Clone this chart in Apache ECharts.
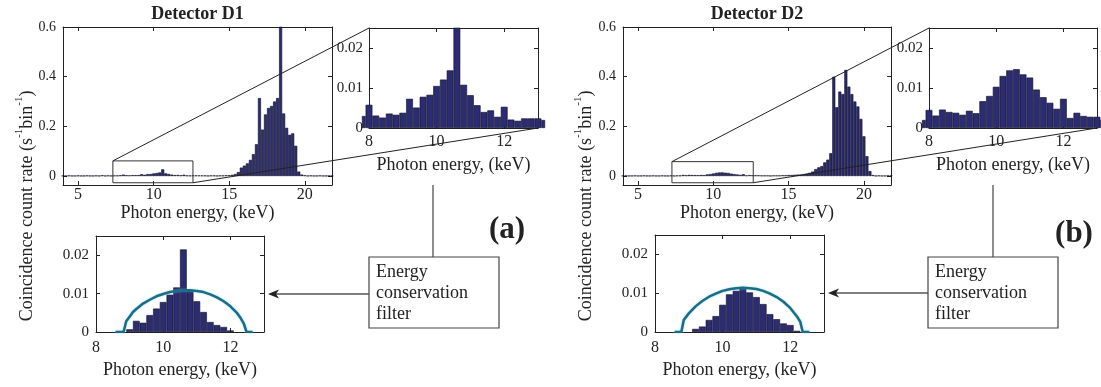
<!DOCTYPE html>
<html>
<head>
<meta charset="utf-8">
<script src="https://cdn.jsdelivr.net/npm/echarts@6/dist/echarts.min.js"></script>
<style>
  html, body { margin: 0; padding: 0; background: #fff; }
  #chart { width: 1101px; height: 387px; }
</style>
</head>
<body>
<div id="chart"></div>
<script>
// ---------------------------------------------------------------
// Data: coincidence count rate per 0.2 keV bin (s^-1 bin^-1)
// ---------------------------------------------------------------
const spectrumEnergy = [
  4.0, 4.2, 4.4, 4.6, 4.8, 5.0, 5.2, 5.4, 5.6, 5.8, 6.0, 6.2, 6.4, 6.6, 6.8, 7.0, 7.2, 7.4, 7.6, 7.8,
  8.0, 8.2, 8.4, 8.6, 8.8, 9.0, 9.2, 9.4, 9.6, 9.8, 10.0, 10.2, 10.4, 10.6, 10.8, 11.0, 11.2, 11.4, 11.6, 11.8,
  12.0, 12.2, 12.4, 12.6, 12.8, 13.0, 13.2, 13.4, 13.6, 13.8, 14.0, 14.2, 14.4, 14.6, 14.8, 15.0, 15.2, 15.4, 15.6, 15.8,
  16.0, 16.2, 16.4, 16.6, 16.8, 17.0, 17.2, 17.4, 17.6, 17.8, 18.0, 18.2, 18.4, 18.6, 18.8, 19.0, 19.2, 19.4, 19.6, 19.8,
  20.0, 20.2, 20.4, 20.6, 20.8, 21.0, 21.2, 21.4, 21.6, 21.8
];

const spectrumD1 = [
  0.001, 0.001, 0.002, 0.001, 0.001, 0.002, 0.001, 0.001, 0.002, 0.001, 0.001, 0.002, 0.001, 0.003, 0.001, 0.002, 0.001, 0.002, 0.002, 0.003,
  0.0058, 0.0031, 0.0026, 0.0036, 0.0033, 0.0038, 0.0073, 0.0051, 0.0078, 0.0083, 0.0105, 0.0121, 0.0144, 0.027, 0.0108, 0.0082, 0.0057, 0.0040, 0.0044, 0.0028,
  0.0053, 0.0021, 0.0018, 0.0024, 0.0024, 0.0024, 0.002, 0.002, 0.001, 0.002, 0.002, 0.001, 0.002, 0.002, 0.003, 0.003, 0.005, 0.008, 0.016, 0.034,
  0.042, 0.051, 0.065, 0.088, 0.128, 0.314, 0.187, 0.248, 0.274, 0.282, 0.300, 0.314, 0.75, 0.252, 0.194, 0.166, 0.172, 0.122, 0.018, 0.006,
  0.003, 0.001, 0.002, 0.001, 0.001, 0.002, 0.001, 0.001, 0.001, 0.001
];

const spectrumD2 = [
  0.001, 0.002, 0.001, 0.001, 0.002, 0.001, 0.001, 0.002, 0.001, 0.001, 0.002, 0.001, 0.001, 0.002, 0.001, 0.001, 0.002, 0.001, 0.002, 0.002,
  0.0045, 0.0031, 0.0046, 0.0040, 0.0038, 0.0033, 0.0043, 0.0037, 0.0067, 0.0080, 0.0103, 0.0130, 0.0144, 0.0147, 0.0134, 0.0126, 0.0096, 0.0077, 0.0063, 0.0048,
  0.0073, 0.0025, 0.0038, 0.0030, 0.0028, 0.0028, 0.002, 0.002, 0.002, 0.001, 0.002, 0.002, 0.002, 0.003, 0.003, 0.004, 0.004, 0.005, 0.006, 0.006,
  0.008, 0.010, 0.013, 0.018, 0.028, 0.035, 0.040, 0.055, 0.066, 0.092, 0.400, 0.277, 0.340, 0.330, 0.427, 0.360, 0.330, 0.300, 0.280, 0.230,
  0.160, 0.080, 0.020, 0.004, 0.001, 0.002, 0.001, 0.001, 0.002, 0.002
];

// After the energy conservation filter
const filteredEnergyD1 = [9.0, 9.2, 9.4, 9.6, 9.8, 10.0, 10.2, 10.4, 10.6, 10.8, 11.0, 11.2, 11.4, 11.6, 11.8, 12.0];
const filteredD1 = [0.0007, 0.0029, 0.0024, 0.0044, 0.0061, 0.0078, 0.0097, 0.0116, 0.0215, 0.0108, 0.0080, 0.0052, 0.0026, 0.0018, 0.0013, 0.0004];
const filteredEnergyD2 = [9.2, 9.4, 9.6, 9.8, 10.0, 10.2, 10.4, 10.6, 10.8, 11.0, 11.2, 11.4, 11.6, 11.8, 12.0, 12.2];
const filteredD2 = [0.0008, 0.0014, 0.0031, 0.0041, 0.0070, 0.0097, 0.0106, 0.0113, 0.0102, 0.0090, 0.0072, 0.0046, 0.0033, 0.0022, 0.0018, 0.0003];

// Filter acceptance envelope
const envelopeEnergyD1 = [8.58, 8.82, 8.9, 9.0, 9.1, 9.2, 9.4, 9.6, 9.8, 10.0, 10.2, 10.4, 10.6, 10.8, 11.0, 11.2, 11.4, 11.6, 11.8, 12.0, 12.2, 12.3, 12.4, 12.48, 12.66];
const envelopeD1 = [0, 0, 0.0028, 0.0040, 0.0052, 0.0060, 0.0074, 0.0084, 0.0093, 0.0099, 0.0104, 0.0107, 0.0109, 0.0109, 0.0107, 0.0104, 0.0098, 0.0090, 0.0080, 0.0067, 0.0049, 0.0037, 0.0022, 0, 0];
const envelopeEnergyD2 = [8.58, 8.78, 8.85, 9.0, 9.2, 9.4, 9.6, 9.8, 10.0, 10.2, 10.4, 10.6, 10.8, 11.0, 11.2, 11.4, 11.6, 11.8, 12.0, 12.2, 12.3, 12.37, 12.57];
const envelopeD2 = [0, 0, 0.0031, 0.0048, 0.0066, 0.0080, 0.0091, 0.0099, 0.0106, 0.0110, 0.0113, 0.0114, 0.0113, 0.0111, 0.0106, 0.0099, 0.0090, 0.0078, 0.0062, 0.0040, 0.0026, 0, 0];

// Magnified window drawn on each full spectrum (keV, rate)
const windowEnergyD1 = [7.3, 12.6];
const windowRateD1 = [-0.027, 0.061];
const windowEnergyD2 = [7.25, 12.65];
const windowRateD2 = [-0.027, 0.058];

// Axis ranges and tick labels
const spectrumRangeX = [4, 21.8];
const spectrumRangeY = [-0.036, 0.6];
const zoomRangeX = [8, 13];
const zoomRangeY = [0, 0.025];
const spectrumTicksX = [5, 10, 15, 20];
const spectrumTicksY = [0, 0.2, 0.4, 0.6];
const zoomTicksX = [8, 10, 12];
const zoomTicksY = [0, 0.01, 0.02];

// ---------------------------------------------------------------
// Layout (pixels)
// ---------------------------------------------------------------
const FONT = 'Liberation Serif';
const INK = '#222';
const BAR = '#2c2c72';
const ENVELOPE = '#1b6c88';

const panels = [
  { main: { left: 63, top: 27, width: 269, height: 158 },
    inset: { left: 369, top: 28, width: 169, height: 100 },
    filt: { left: 96, top: 236, width: 168, height: 96 },
    title: 'Detector D1', tag: '(a)',
    spectrum: spectrumD1, fE: filteredEnergyD1, fV: filteredD1,
    eE: envelopeEnergyD1, eV: envelopeD1, wE: windowEnergyD1, wR: windowRateD1,
    yLabelX: 25, stemX: 433, box: { x: 369, y: 257, w: 130, h: 71 }, arrowY: 294, tagPos: [507, 230] },
  { main: { left: 623, top: 27, width: 268, height: 158 },
    inset: { left: 929, top: 28, width: 168, height: 100 },
    filt: { left: 655, top: 235, width: 169, height: 97 },
    title: 'Detector D2', tag: '(b)',
    spectrum: spectrumD2, fE: filteredEnergyD2, fV: filteredD2,
    eE: envelopeEnergyD2, eV: envelopeD2, wE: windowEnergyD2, wR: windowRateD2,
    yLabelX: 584, stemX: 993, box: { x: 928, y: 257, w: 130, h: 71 }, arrowY: 293, tagPos: [1074, 234] }
];

const grids = [], xAxes = [], yAxes = [], series = [];
const tickLabelJobs = [];

function pairs(xs, ys) { return xs.map((x, i) => [x, ys[i]]); }

// One boxed plot: bottom/left axes carry the ticks, top/right close the frame.
function addBox(rect, xr, yr, xt, yt, fonts) {
  const gi = grids.length;
  grids.push(Object.assign({ containLabel: false }, rect));
  const line = { show: true, onZero: false, lineStyle: { color: INK, width: 1 } };
  const tick = (vals) => ({ show: true, inside: true, length: 4, customValues: vals, lineStyle: { color: INK, width: 1 } });
  const xi = xAxes.length, yi = yAxes.length;
  ['bottom', 'top'].forEach((pos) => xAxes.push({ gridIndex: gi, type: 'value', position: pos, min: xr[0], max: xr[1],
    axisLine: line, axisTick: tick(xt), splitLine: { show: false }, axisLabel: { show: false } }));
  ['left', 'right'].forEach((pos) => yAxes.push({ gridIndex: gi, type: 'value', position: pos, min: yr[0], max: yr[1],
    axisLine: line, axisTick: tick(yt), splitLine: { show: false }, axisLabel: { show: false } }));
  tickLabelJobs.push({ rect, xi, yi, xt, yt, fonts });
  return { xi, yi };
}

function barSeries(ax, xs, ys) {
  return { type: 'bar', xAxisIndex: ax.xi, yAxisIndex: ax.yi, data: pairs(xs, ys),
    barCategoryGap: '0%', clip: true, silent: true, animation: false,
    itemStyle: { color: BAR, borderColor: '#0d0d22', borderWidth: 0.6 } };
}

const axesRefs = [];
panels.forEach((p) => {
  const mainAx = addBox(p.main, spectrumRangeX, spectrumRangeY, spectrumTicksX, spectrumTicksY, { x: 16, y: 14, xGap: 10, yGap: 7 });
  const insetAx = addBox(p.inset, zoomRangeX, zoomRangeY, zoomTicksX, zoomTicksY, { x: 16, y: 15, xGap: 14, yGap: 6 });
  const filtAx = addBox(p.filt, zoomRangeX, zoomRangeY, zoomTicksX, zoomTicksY, { x: 16, y: 15, xGap: 16, yGap: 7 });
  axesRefs.push({ mainAx, insetAx, filtAx });

  series.push(barSeries(mainAx, spectrumEnergy, p.spectrum));
  series.push(barSeries(insetAx, spectrumEnergy, p.spectrum));
  series.push(barSeries(filtAx, p.fE, p.fV));
  series.push({ type: 'line', xAxisIndex: filtAx.xi, yAxisIndex: filtAx.yi, data: pairs(p.eE, p.eV),
    symbol: 'none', silent: true, animation: false, z: 5,
    lineStyle: { color: ENVELOPE, width: 2.5, shadowColor: 'rgba(90,200,220,0.7)', shadowBlur: 2 } });
  // magnified window outline on the full spectrum
  const wx = [p.wE[0], p.wE[1], p.wE[1], p.wE[0], p.wE[0]];
  const wy = [p.wR[0], p.wR[0], p.wR[1], p.wR[1], p.wR[0]];
  series.push({ type: 'line', xAxisIndex: mainAx.xi, yAxisIndex: mainAx.yi, data: pairs(wx, wy),
    symbol: 'none', silent: true, animation: false, clip: false, z: 6,
    lineStyle: { color: '#333', width: 1 } });
});

const chart = echarts.init(document.getElementById('chart'), null, { renderer: 'canvas' });
chart.setOption({
  animation: false,
  backgroundColor: '#fff',
  textStyle: { fontFamily: FONT, color: INK },
  grid: grids,
  xAxis: xAxes,
  yAxis: yAxes,
  series: series
});

// ---------------------------------------------------------------
// Annotations: tick labels, titles, axis names, connectors, filter boxes
// ---------------------------------------------------------------
function txt(text, x, y, size, opts) {
  opts = opts || {};
  const align = opts.align || 'center';
  const valign = opts.valign || 'middle';
  return { type: 'text', x: x, y: y, z: 100, silent: true,
    style: { text: text, fill: INK, fontFamily: FONT, fontSize: size,
      fontWeight: opts.bold ? 'bold' : 'normal',
      align: align, textAlign: align, verticalAlign: valign, textVerticalAlign: valign } };
}
function seg(x1, y1, x2, y2, color, width) {
  return { type: 'line', z: 100, silent: true, shape: { x1, y1, x2, y2 },
    style: { stroke: color || '#333', lineWidth: width || 1 } };
}

const graphics = [];

// tick labels placed through each axis' own scale
tickLabelJobs.forEach((job) => {
  const bottom = job.rect.top + job.rect.height;
  job.xt.forEach((v) => {
    const px = chart.convertToPixel({ xAxisIndex: job.xi }, v);
    graphics.push(txt(String(v), px, bottom + job.fonts.xGap, job.fonts.x));
  });
  job.yt.forEach((v) => {
    const py = chart.convertToPixel({ yAxisIndex: job.yi }, v);
    graphics.push(txt(String(v), job.rect.left - job.fonts.yGap, py, job.fonts.y, { align: 'right' }));
  });
});

panels.forEach((p, k) => {
  const a = axesRefs[k];
  const mainCx = p.main.left + p.main.width / 2;
  const insetCx = p.inset.left + p.inset.width / 2;
  const filtCx = p.filt.left + p.filt.width / 2;

  graphics.push(txt(p.title, mainCx, 14, 18, { bold: true }));
  graphics.push(txt('Photon energy, (keV)', mainCx, 213, 18));
  graphics.push(txt('Photon energy, (keV)', insetCx, 165, 18));
  graphics.push(txt('Photon energy, (keV)', filtCx, 370, 18));

  // rotated y-axis name with superscripts
  graphics.push({ type: 'text', x: p.yLabelX, y: 206, rotation: Math.PI / 2, z: 100, silent: true,
    style: { text: '{n|Coincidence count rate (s}{s|-1}{n|bin}{s|-1}{n|)}',
      align: 'center', textAlign: 'center', verticalAlign: 'middle', textVerticalAlign: 'middle',
      rich: {
        n: { fontFamily: FONT, fontSize: 18, fill: INK, lineHeight: 22, verticalAlign: 'bottom' },
        s: { fontFamily: FONT, fontSize: 11, fill: INK, lineHeight: 22, verticalAlign: 'top' }
      } } });

  // connectors from the magnified window to the inset
  const mainFinder = { xAxisIndex: a.mainAx.xi, yAxisIndex: a.mainAx.yi };
  const insetFinder = { xAxisIndex: a.insetAx.xi, yAxisIndex: a.insetAx.yi };
  const wTL = chart.convertToPixel(mainFinder, [p.wE[0], p.wR[1]]);
  const wBR = chart.convertToPixel(mainFinder, [p.wE[1], p.wR[0]]);
  const iTL = chart.convertToPixel(insetFinder, [zoomRangeX[0], zoomRangeY[1]]);
  const iBR = chart.convertToPixel(insetFinder, [zoomRangeX[1], zoomRangeY[0]]);
  graphics.push(seg(wTL[0], wTL[1], iTL[0], iTL[1], '#222', 1));
  graphics.push(seg(wBR[0], wBR[1], iBR[0], iBR[1], '#222', 1));

  // energy conservation filter box and arrow
  const b = p.box;
  graphics.push(seg(p.stemX, 185, p.stemX, b.y, '#444', 1.2));
  graphics.push({ type: 'rect', z: 100, silent: true, shape: { x: b.x, y: b.y, width: b.w, height: b.h },
    style: { fill: '#fff', stroke: '#444', lineWidth: 1.2 } });
  graphics.push({ type: 'text', x: b.x + 7, y: b.y + 5, z: 101, silent: true,
    style: { text: 'Energy\nconservation\nfilter', fill: INK, fontFamily: FONT, fontSize: 18,
      lineHeight: 21, align: 'left', textAlign: 'left', verticalAlign: 'top', textVerticalAlign: 'top' } });
  const tipX = p.filt.left + p.filt.width + 4;
  graphics.push(seg(b.x, p.arrowY, tipX + 8, p.arrowY, '#555', 1.3));
  graphics.push({ type: 'polygon', z: 101, silent: true,
    shape: { points: [[tipX, p.arrowY], [tipX + 11, p.arrowY - 4.5], [tipX + 8, p.arrowY], [tipX + 11, p.arrowY + 4.5]] },
    style: { fill: '#222' } });

  graphics.push(txt(p.tag, p.tagPos[0], p.tagPos[1], 31, { bold: true }));
});

chart.setOption({ graphic: graphics });
</script>
</body>
</html>
